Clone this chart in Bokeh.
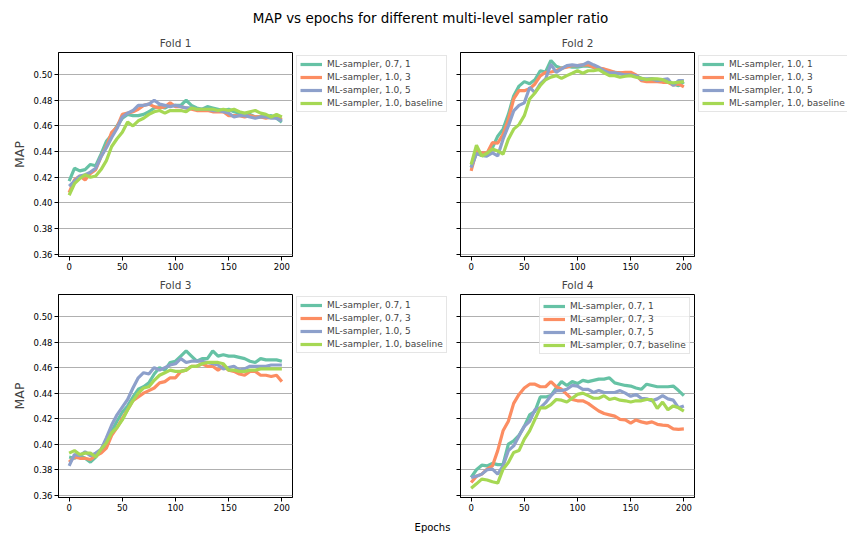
from bokeh.plotting import figure
from bokeh.layouts import column, row
from bokeh.models import (Range1d, FixedTicker, NumeralTickFormatter, Legend, LegendItem, Label,
                          CustomJSTickFormatter)
from bokeh.embed import file_html
from bokeh.resources import INLINE

FONT = "DejaVu Sans"

title_text = "MAP vs epochs for different multi-level sampler ratio"
x_label = "Epochs"
y_label = "MAP"
fold_titles = ["Fold 1", "Fold 2", "Fold 3", "Fold 4"]

epochs = [0, 5, 10, 15, 20, 25, 30, 35, 40, 45, 50, 55, 60, 65, 70, 75, 80, 85, 90, 95, 100,
          105, 110, 115, 120, 125, 130, 135, 140, 145, 150, 155, 160, 165, 170, 175, 180, 185, 190, 195, 200]

colors = ["#66c2a5", "#fc8d62", "#8da0cb", "#a6d854"]

fold1_labels = ["ML-sampler, 0.7, 1", "ML-sampler, 1.0, 3", "ML-sampler, 1.0, 5", "ML-sampler, 1.0, baseline"]
fold2_labels = ["ML-sampler, 1.0, 1", "ML-sampler, 1.0, 3", "ML-sampler, 1.0, 5", "ML-sampler, 1.0, baseline"]
fold3_labels = ["ML-sampler, 0.7, 1", "ML-sampler, 0.7, 3", "ML-sampler, 1.0, 5", "ML-sampler, 1.0, baseline"]
fold4_labels = ["ML-sampler, 0.7, 1", "ML-sampler, 0.7, 3", "ML-sampler, 0.7, 5", "ML-sampler, 0.7, baseline"]

fold1_s1 = [0.417, 0.427, 0.425, 0.426, 0.430, 0.429, 0.438, 0.448, 0.453, 0.460, 0.466, 0.469, 0.468, 0.468,
            0.469, 0.471, 0.474, 0.475, 0.474, 0.476, 0.476, 0.476, 0.480, 0.476, 0.474, 0.473, 0.475, 0.474,
            0.473, 0.472, 0.473, 0.471, 0.470, 0.469, 0.469, 0.467, 0.467, 0.467, 0.468, 0.466, 0.463]
fold1_s2 = [0.408, 0.418, 0.421, 0.418, 0.423, 0.426, 0.436, 0.444, 0.455, 0.459, 0.469, 0.470, 0.471, 0.473,
            0.476, 0.477, 0.475, 0.474, 0.475, 0.478, 0.475, 0.475, 0.474, 0.473, 0.472, 0.472, 0.472, 0.471,
            0.471, 0.471, 0.468, 0.468, 0.468, 0.467, 0.468, 0.467, 0.467, 0.466, 0.467, 0.467, 0.465]
fold1_s3 = [0.413, 0.417, 0.421, 0.422, 0.424, 0.427, 0.436, 0.443, 0.451, 0.458, 0.467, 0.470, 0.472, 0.476,
            0.476, 0.477, 0.480, 0.477, 0.476, 0.475, 0.476, 0.475, 0.474, 0.474, 0.473, 0.473, 0.473, 0.472,
            0.472, 0.471, 0.470, 0.467, 0.468, 0.468, 0.467, 0.466, 0.467, 0.467, 0.466, 0.466, 0.464]
fold1_s4 = [0.406, 0.415, 0.419, 0.422, 0.420, 0.421, 0.426, 0.433, 0.444, 0.450, 0.455, 0.463, 0.460, 0.464,
            0.466, 0.469, 0.471, 0.472, 0.470, 0.472, 0.472, 0.472, 0.471, 0.474, 0.473, 0.473, 0.473, 0.473,
            0.472, 0.473, 0.472, 0.473, 0.471, 0.470, 0.471, 0.472, 0.470, 0.469, 0.467, 0.469, 0.467]

fold2_s1 = [0.4275, 0.439, 0.437, 0.4366, 0.443, 0.452, 0.4575, 0.469, 0.4834, 0.491, 0.4945, 0.4928, 0.496,
            0.503, 0.502, 0.511, 0.5065, 0.505, 0.5065, 0.5057, 0.5057, 0.5065, 0.5065, 0.5057, 0.5044, 0.5031,
            0.5018, 0.5018, 0.5013, 0.5005, 0.4997, 0.4992, 0.4971, 0.4961, 0.4966, 0.4961, 0.4961, 0.4945,
            0.4927, 0.4914, 0.4945]
fold2_s2 = [0.425, 0.4405, 0.439, 0.439, 0.447, 0.4465, 0.4535, 0.465, 0.481, 0.4875, 0.4875, 0.489, 0.4927,
            0.499, 0.5018, 0.502, 0.503, 0.505, 0.5057, 0.507, 0.507, 0.5076, 0.5076, 0.5057, 0.505, 0.5044,
            0.5031, 0.5018, 0.5013, 0.5018, 0.5018, 0.4997, 0.4953, 0.4945, 0.4945, 0.4945, 0.494, 0.494,
            0.4919, 0.4927, 0.4904]
fold2_s3 = [0.4275, 0.4385, 0.437, 0.4366, 0.439, 0.4366, 0.4497, 0.460, 0.4717, 0.476, 0.478, 0.490, 0.486,
            0.4927, 0.4966, 0.508, 0.5018, 0.5044, 0.507, 0.5075, 0.507, 0.5076, 0.5096, 0.5076, 0.5057, 0.5031,
            0.5013, 0.5013, 0.5005, 0.4997, 0.4997, 0.4992, 0.4961, 0.4966, 0.4966, 0.4953, 0.4961, 0.4966,
            0.4914, 0.4953, 0.4953]
fold2_s4 = [0.430, 0.445, 0.4365, 0.4387, 0.442, 0.4405, 0.438, 0.4497, 0.4575, 0.461, 0.468, 0.481, 0.4857,
            0.4915, 0.496, 0.498, 0.4992, 0.497, 0.4992, 0.501, 0.503, 0.501, 0.503, 0.503, 0.5039, 0.5013,
            0.4992, 0.4992, 0.4979, 0.4987, 0.4992, 0.4979, 0.4971, 0.4961, 0.4966, 0.4966, 0.4961, 0.494,
            0.4935, 0.494, 0.4945]

fold3_s1 = [0.390, 0.389, 0.391, 0.389, 0.386, 0.390, 0.395, 0.400, 0.410, 0.418, 0.425, 0.430, 0.437, 0.443,
            0.445, 0.448, 0.455, 0.460, 0.458, 0.464, 0.465, 0.469, 0.473, 0.469, 0.465, 0.467, 0.467, 0.473,
            0.469, 0.470, 0.469, 0.469, 0.468, 0.467, 0.465, 0.464, 0.467, 0.466, 0.466, 0.466, 0.465]
fold3_s2 = [0.386, 0.390, 0.389, 0.389, 0.388, 0.391, 0.393, 0.397, 0.407, 0.413, 0.420, 0.427, 0.434, 0.437,
            0.440, 0.442, 0.444, 0.448, 0.449, 0.452, 0.452, 0.457, 0.458, 0.461, 0.461, 0.463, 0.461, 0.461,
            0.458, 0.461, 0.458, 0.457, 0.455, 0.454, 0.457, 0.457, 0.454, 0.454, 0.453, 0.454, 0.449]
fold3_s3 = [0.383, 0.392, 0.391, 0.394, 0.391, 0.393, 0.396, 0.405, 0.415, 0.423, 0.429, 0.435, 0.444, 0.452,
            0.456, 0.455, 0.460, 0.458, 0.460, 0.462, 0.463, 0.467, 0.464, 0.465, 0.465, 0.465, 0.464, 0.463,
            0.462, 0.459, 0.460, 0.461, 0.458, 0.459, 0.461, 0.461, 0.461, 0.461, 0.462, 0.462, 0.462]
fold3_s4 = [0.393, 0.395, 0.392, 0.393, 0.393, 0.390, 0.396, 0.401, 0.409, 0.413, 0.419, 0.427, 0.434, 0.440,
            0.444, 0.445, 0.450, 0.454, 0.456, 0.458, 0.457, 0.457, 0.458, 0.461, 0.461, 0.463, 0.464, 0.464,
            0.464, 0.463, 0.458, 0.458, 0.457, 0.457, 0.458, 0.458, 0.459, 0.459, 0.459, 0.459, 0.459]

fold4_s1 = [0.374, 0.380, 0.3836, 0.383, 0.385, 0.384, 0.384, 0.400, 0.4026, 0.407, 0.414, 0.423, 0.4257,
            0.437, 0.437, 0.438, 0.444, 0.449, 0.446, 0.449, 0.4475, 0.450, 0.449, 0.450, 0.451, 0.451, 0.452,
            0.448, 0.447, 0.446, 0.4455, 0.444, 0.443, 0.447, 0.446, 0.445, 0.445, 0.445, 0.4455, 0.442, 0.438]
fold4_s2 = [0.370, 0.375, 0.3766, 0.3805, 0.383, 0.395, 0.4105, 0.418, 0.432, 0.439, 0.444, 0.447, 0.447,
            0.445, 0.445, 0.449, 0.445, 0.443, 0.439, 0.435, 0.434, 0.434, 0.432, 0.429, 0.426, 0.424, 0.423,
            0.422, 0.4195, 0.419, 0.4165, 0.419, 0.4175, 0.4165, 0.4175, 0.4156, 0.415, 0.4145, 0.412, 0.4117, 0.412]
fold4_s3 = [0.374, 0.375, 0.3766, 0.380, 0.3805, 0.3766, 0.383, 0.395, 0.3987, 0.4065, 0.414, 0.418, 0.427,
            0.4285, 0.4325, 0.438, 0.442, 0.442, 0.443, 0.446, 0.4455, 0.443, 0.443, 0.4405, 0.442, 0.4405,
            0.4405, 0.4405, 0.442, 0.440, 0.4375, 0.439, 0.436, 0.4355, 0.434, 0.4355, 0.438, 0.4355, 0.4345,
            0.4285, 0.430]
fold4_s4 = [0.3655, 0.369, 0.3727, 0.372, 0.3706, 0.3696, 0.3805, 0.3857, 0.3935, 0.395, 0.404, 0.4105, 0.4195,
            0.4285, 0.4285, 0.431, 0.435, 0.4345, 0.433, 0.436, 0.439, 0.440, 0.438, 0.436, 0.436, 0.438, 0.435,
            0.436, 0.4345, 0.434, 0.433, 0.434, 0.434, 0.435, 0.435, 0.428, 0.433, 0.427, 0.430, 0.4285, 0.426]

x_ticks = [0, 50, 100, 150, 200]
y_ticks = [0.36, 0.38, 0.40, 0.42, 0.44, 0.46, 0.48, 0.50]

X_RANGE = (-10, 210)
Y_RANGE = (0.3583, 0.5172)
FRAME_W = 234
LINE_W = 3.2


def style_legend(items, loc):
    return Legend(items=items, location=loc, orientation="vertical",
                  label_text_font=FONT, label_text_font_size="9px",
                  glyph_width=22, glyph_height=10, label_height=10, label_standoff=5,
                  spacing=3, padding=3, margin=0,
                  border_line_color="#cccccc", border_line_width=1,
                  background_fill_color="white", background_fill_alpha=0.8)


def make_fold(title, series, show_ylabels, left, top, bottom, height, standoff):
    width = left + FRAME_W + 2
    p = figure(width=width, height=height, toolbar_location=None, output_backend="svg",
               x_range=Range1d(*X_RANGE), y_range=Range1d(*Y_RANGE),
               min_border_left=left, min_border_right=2,
               min_border_top=top, min_border_bottom=bottom,
               background_fill_color="white", border_fill_color="white")
    p.title.text = title
    p.title.align = "center"
    p.title.text_font = FONT
    p.title.text_font_size = "10.5px"
    p.title.text_font_style = "normal"
    p.title.standoff = standoff
    p.outline_line_color = "black"
    p.outline_line_width = 1
    p.xgrid.visible = False
    p.ygrid.grid_line_color = "#b0b0b0"
    p.ygrid.grid_line_width = 1
    p.ygrid.ticker = FixedTicker(ticks=y_ticks)
    for ax in (p.xaxis[0], p.yaxis[0]):
        ax.axis_line_color = "black"
        ax.major_tick_line_color = "black"
        ax.major_tick_out = 4
        ax.major_tick_in = 0
        ax.minor_tick_line_color = None
        ax.major_label_text_font = FONT
        ax.major_label_text_font_size = "8.5px"
        ax.major_label_text_color = "black"
        ax.major_label_standoff = 2
    p.xaxis.ticker = FixedTicker(ticks=x_ticks)
    p.yaxis.ticker = FixedTicker(ticks=y_ticks)
    if show_ylabels:
        p.yaxis.formatter = NumeralTickFormatter(format="0.00")
        p.yaxis.axis_label = y_label
        p.yaxis.axis_label_text_font = FONT
        p.yaxis.axis_label_text_font_size = "12.5px"
        p.yaxis.axis_label_text_font_style = "normal"
        p.yaxis.axis_label_standoff = 4
    else:
        p.yaxis.formatter = CustomJSTickFormatter(code="return ''")
        p.yaxis.major_label_standoff = 0
    renderers = []
    for ys, col in zip(series, colors):
        renderers.append(p.line(epochs, ys, line_color=col, line_width=LINE_W))
    return p, renderers


def legend_fig(width, height, labels, series, loc):
    # side box that holds only the legend; its ranges keep the proxy lines out of view
    p = figure(width=width, height=height, toolbar_location=None, output_backend="svg",
               title=None, x_range=Range1d(*X_RANGE), y_range=Range1d(10, 11),
               x_axis_location=None, y_axis_location=None, min_border=0,
               outline_line_color=None, background_fill_color="white", border_fill_color="white")
    p.grid.visible = False
    items = []
    for lab, ys, col in zip(labels, series, colors):
        r = p.line(epochs, ys, line_color=col, line_width=LINE_W)
        items.append(LegendItem(label=lab, renderers=[r]))
    p.add_layout(style_legend(items, loc), "center")
    return p


def text_fig(width, height, text, size, x, y):
    p = figure(width=width, height=height, toolbar_location=None, output_backend="svg",
               title=None, x_range=Range1d(0, 1), y_range=Range1d(0, 1),
               x_axis_location=None, y_axis_location=None, min_border=0,
               outline_line_color=None, background_fill_color="white", border_fill_color="white")
    p.grid.visible = False
    p.add_layout(Label(x=x, y=y, x_units="screen", y_units="screen", text=text,
                       text_font=FONT, text_font_size=size, text_align="center",
                       text_baseline="middle", text_color="black"))
    return p


t = text_fig(847, 28, title_text, "13.5px", 430, 11)

fold1 = [fold1_s1, fold1_s2, fold1_s3, fold1_s4]
fold2 = [fold2_s1, fold2_s2, fold2_s3, fold2_s4]
fold3 = [fold3_s1, fold3_s2, fold3_s3, fold3_s4]
fold4 = [fold4_s1, fold4_s2, fold4_s3, fold4_s4]

f1, _ = make_fold(fold_titles[0], fold1, True, 58, 24, 17, 245, 8)
l1 = legend_fig(155, 245, fold1_labels, fold1, (2, 144))
f2, _ = make_fold(fold_titles[1], fold2, False, 11, 24, 17, 245, 8)
l2 = legend_fig(151, 245, fold2_labels, fold2, (2, 144))

f3, _ = make_fold(fold_titles[2], fold3, True, 58, 20, 22, 246, 7)
l3 = legend_fig(155, 246, fold3_labels, fold3, (2, 144))
f4, r4 = make_fold(fold_titles[3], fold4, False, 11, 20, 22, 246, 7)
f4.add_layout(style_legend([LegendItem(label=lab, renderers=[r]) for lab, r in zip(fold4_labels, r4)],
                           (79, 143)), "center")

b = text_fig(847, 15, x_label, "10px", 432, 7)

layout = column(t, row(f1, l1, f2, l2), row(f3, l3, f4), b)
open("out.html", "w").write(file_html(layout, INLINE))
